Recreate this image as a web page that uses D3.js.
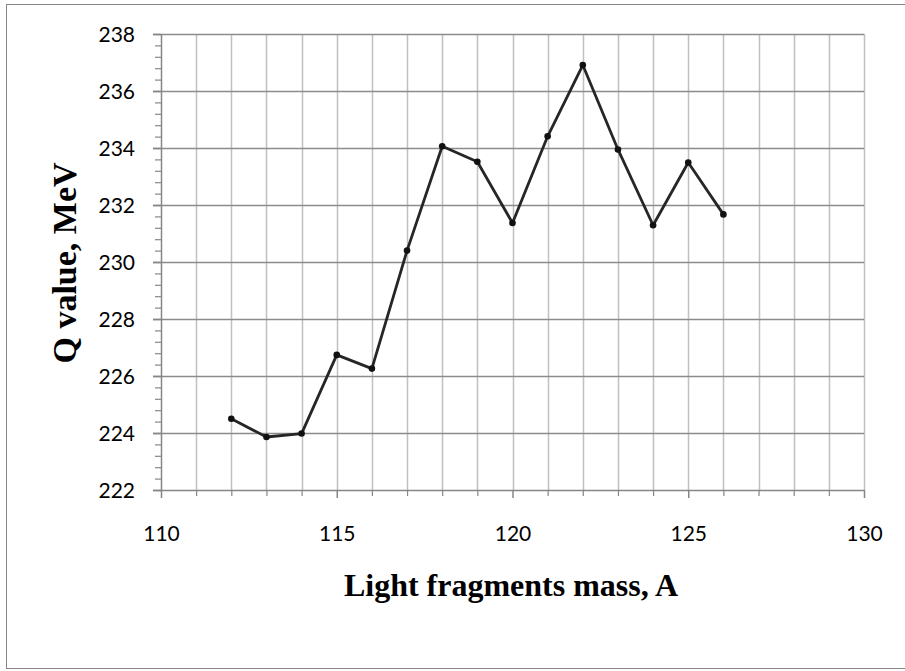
<!DOCTYPE html>
<html>
<head>
<meta charset="utf-8">
<script src="https://cdn.jsdelivr.net/npm/d3@7"></script>
<style>
  html, body { margin: 0; padding: 0; background: #fff; }
  svg { display: block; }
</style>
</head>
<body>
<svg id="chart" width="905" height="671"></svg>
<script>
// Q value of the fission reaction versus the light fragment mass number
const massNumbers = [112, 113, 114, 115, 116, 117, 118, 119, 120, 121, 122, 123, 124, 125, 126];
const qValues = [224.5, 223.86, 223.98, 226.74, 226.26, 230.4, 234.06, 233.52, 231.37, 234.41, 236.91, 233.95, 231.29, 233.49, 231.67];
const xTickLabels = [110, 115, 120, 125, 130];
const yTickLabels = [222, 224, 226, 228, 230, 232, 234, 236, 238];

const svg = d3.select("#chart");
const margin = { left: 161, right: 41, top: 34, bottom: 181 };
const W = 905, H = 671;
const tickFont = "Lato, 'Open Sans', sans-serif";
const titleFont = "'Liberation Serif', 'Times New Roman', serif";

// outer chart frame
svg.append("rect")
  .attr("x", 6.5).attr("y", 4.5)
  .attr("width", 905).attr("height", 664)
  .attr("fill", "#fff").attr("stroke", "#868686").attr("stroke-width", 1);

const x = d3.scaleLinear().domain([110, 130]).range([margin.left, W - margin.right]);
const y = d3.scaleLinear().domain([222, 238]).range([H - margin.bottom, margin.top]);

// vertical gridlines at every unit of mass
svg.append("g")
  .selectAll("line")
  .data(d3.range(111, 131, 1))
  .join("line")
  .attr("x1", d => Math.round(x(d)) + 0.5).attr("x2", d => Math.round(x(d)) + 0.5)
  .attr("y1", y(222)).attr("y2", y(238))
  .attr("stroke", "#c0c0c0").attr("stroke-width", 1.5);

// horizontal gridlines at each labelled value
svg.append("g")
  .selectAll("line")
  .data(yTickLabels.slice(1))
  .join("line")
  .attr("x1", x(110) - 8).attr("x2", x(130))
  .attr("y1", d => Math.round(y(d)) + 0.5).attr("y2", d => Math.round(y(d)) + 0.5)
  .attr("stroke", "#8c8c8c").attr("stroke-width", 1.5);

// y axis with minor ticks
const yMinor = d3.range(222, 238.001, 0.4).filter(v => Math.abs(v / 2 - Math.round(v / 2)) > 1e-6);
svg.append("g")
  .attr("transform", `translate(${x(110)},0)`)
  .call(d3.axisLeft(y).tickValues(yMinor).tickSize(6).tickFormat(""))
  .call(g => g.select(".domain").remove())
  .call(g => g.selectAll("line").attr("stroke", "#868686").attr("stroke-width", 1.2));

const yAxis = svg.append("g")
  .attr("transform", `translate(${x(110)},0)`)
  .call(d3.axisLeft(y).tickValues(yTickLabels).tickSize(8).tickPadding(18).tickFormat(d3.format("d")));
yAxis.select(".domain").attr("stroke", "#868686").attr("stroke-width", 1.5).attr("d", `M0.5,${y(222)}V${y(238)}`);
yAxis.selectAll("line").attr("stroke", "#868686").attr("stroke-width", 1.5);
yAxis.selectAll("text").attr("font-family", tickFont).attr("font-size", 21).attr("fill", "#000").attr("dy", "0.36em");

// x axis with minor ticks
svg.append("g")
  .attr("transform", `translate(0,${y(222)})`)
  .call(d3.axisBottom(x).tickValues(d3.range(111, 130, 1).filter(v => v % 5 !== 0)).tickSize(6).tickFormat(""))
  .call(g => g.select(".domain").remove())
  .call(g => g.selectAll("line").attr("stroke", "#868686").attr("stroke-width", 1.2));

const xAxis = svg.append("g")
  .attr("transform", `translate(0,${y(222)})`)
  .call(d3.axisBottom(x).tickValues(xTickLabels).tickSize(8).tickPadding(28).tickFormat(d3.format("d")));
xAxis.select(".domain").attr("stroke", "#868686").attr("stroke-width", 1.5).attr("d", `M${x(110) - 8},0.5H${x(130)}`);
xAxis.selectAll("line").attr("stroke", "#868686").attr("stroke-width", 1.5);
xAxis.selectAll("text").attr("font-family", tickFont).attr("font-size", 21).attr("fill", "#000");

// data series
const pts = massNumbers.map((m, i) => ({ m, q: qValues[i] }));
svg.append("path")
  .datum(pts)
  .attr("fill", "none")
  .attr("stroke", "#262626")
  .attr("stroke-width", 2.8)
  .attr("stroke-linejoin", "round")
  .attr("d", d3.line().x(d => x(d.m)).y(d => y(d.q)));

svg.append("g")
  .selectAll("circle")
  .data(pts)
  .join("circle")
  .attr("cx", d => x(d.m)).attr("cy", d => y(d.q))
  .attr("r", 3.3)
  .attr("fill", "#111");

// axis titles
svg.append("text")
  .attr("x", 511).attr("y", 596)
  .attr("text-anchor", "middle")
  .attr("font-family", titleFont)
  .attr("font-weight", "bold").attr("font-size", 32)
  .text("Light fragments mass, A");

svg.append("text")
  .attr("transform", `translate(76,263) rotate(-90)`)
  .attr("text-anchor", "middle")
  .attr("font-family", titleFont)
  .attr("font-weight", "bold").attr("font-size", 34)
  .text("Q value, MeV");
</script>
</body>
</html>
